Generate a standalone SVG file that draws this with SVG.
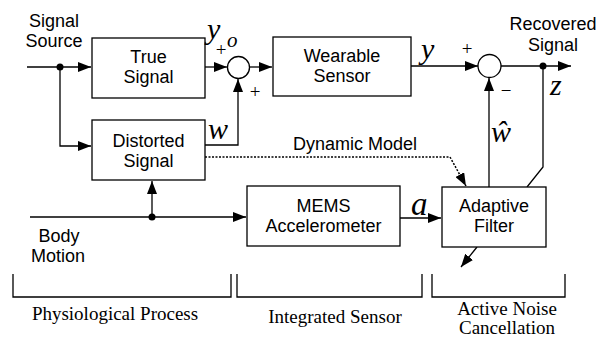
<svg xmlns="http://www.w3.org/2000/svg" width="603" height="337" viewBox="0 0 603 337">
<style>
.box{fill:#fff;stroke:#000;stroke-width:1.3}
.ln{fill:none;stroke:#000;stroke-width:1.3}
.dot{fill:none;stroke:#000;stroke-width:1.5;stroke-dasharray:2 1.5}
.s{font-family:"Liberation Sans",Arial,sans-serif;font-size:18px;text-anchor:middle;fill:#000}
.t{font-family:"Liberation Serif","Times New Roman",serif;font-size:19px;text-anchor:middle;fill:#000}
.m{font-family:"Liberation Serif","Times New Roman",serif;font-style:italic;font-size:30px;fill:#000}
.p{font-family:"Liberation Serif","Times New Roman",serif;font-size:19px;text-anchor:middle;fill:#000}
</style>
<defs>
<marker id="ar" markerUnits="userSpaceOnUse" markerWidth="14" markerHeight="10" refX="13" refY="5" orient="auto">
<path d="M0,0 L13,5 L0,10 Z" fill="#000"/>
</marker>
</defs>
<rect width="603" height="337" fill="#fff"/>
<g id="connectors">
<path class="ln" d="M27,67 H91" marker-end="url(#ar)"/>
<path class="ln" d="M60,67 V146 H91" marker-end="url(#ar)"/>
<path class="ln" d="M205,67 H227" marker-end="url(#ar)"/>
<path class="ln" d="M249,67 H272" marker-end="url(#ar)"/>
<path class="ln" d="M205,145 H238 V79" marker-end="url(#ar)"/>
<path class="ln" d="M411,66 H478" marker-end="url(#ar)"/>
<path class="ln" d="M501,66 H571" marker-end="url(#ar)"/>
<path class="ln" d="M543,66 V167 L527,187"/>
<path class="ln" d="M477,247 L461,267" marker-end="url(#ar)"/>
<path class="ln" d="M489,187 V78" marker-end="url(#ar)"/>
<path class="ln" d="M30,217 H246" marker-end="url(#ar)"/>
<path class="ln" d="M152,217 V181" marker-end="url(#ar)"/>
<path class="ln" d="M400,218 H441" marker-end="url(#ar)"/>
<path class="dot" d="M205,157 H450 L466,186" marker-end="url(#ar)"/>
<circle cx="60" cy="67" r="3.5" fill="#000"/>
<circle cx="152" cy="217" r="3.5" fill="#000"/>
<circle cx="543" cy="66" r="3.5" fill="#000"/>
</g>
<g id="source"><text class="s" x="54" y="27">Signal</text><text class="s" x="54" y="47">Source</text></g>
<g id="true-signal"><rect class="box" x="92" y="38" width="113" height="60"/><text class="s" x="148.5" y="63">True</text><text class="s" x="148.5" y="83">Signal</text></g>
<g id="distorted-signal"><rect class="box" x="92" y="120" width="113" height="60"/><text class="s" x="148.5" y="147">Distorted</text><text class="s" x="148.5" y="167">Signal</text></g>
<g id="sum1"><circle class="box" cx="238.5" cy="67.5" r="11"/></g>
<g id="wearable-sensor"><rect class="box" x="273" y="37" width="138" height="59"/><text class="s" x="342" y="62">Wearable</text><text class="s" x="342" y="82">Sensor</text></g>
<g id="sum2"><circle class="box" cx="489.5" cy="66" r="11.5"/></g>
<g id="mems"><rect class="box" x="247" y="186" width="153" height="60"/><text class="s" x="323.5" y="212">MEMS</text><text class="s" x="323.5" y="232">Accelerometer</text></g>
<g id="adaptive-filter"><rect class="box" x="442" y="187" width="104" height="60"/><text class="s" x="494" y="212">Adaptive</text><text class="s" x="494" y="232">Filter</text></g>
<g id="recovered"><text class="s" x="553" y="30">Recovered</text><text class="s" x="553" y="51">Signal</text></g>
<g id="labels">
<text class="s" x="355" y="150">Dynamic Model</text>
<text class="s" x="59" y="242">Body</text>
<text class="s" x="58" y="262">Motion</text>
<text class="m" x="207" y="39">y</text>
<text class="m" x="227" y="47" style="font-size:21px">o</text>
<text class="p" x="221" y="56">+</text>
<text class="p" x="255" y="98">+</text>
<text class="m" x="208" y="139">w</text>
<text class="m" x="421" y="59">y</text>
<text class="p" x="467" y="55">+</text>
<text class="p" x="506" y="97">−</text>
<text class="m" x="550" y="95">z</text>
<text class="m" x="491" y="142">ŵ</text>
<text class="m" x="411" y="215" style="font-size:33px">a</text>
</g>
<g id="brackets">
<path class="ln" d="M13,274 V297 H231 V274"/>
<path class="ln" d="M237,274 V297 H422 V274"/>
<path class="ln" d="M432,274 V297 H565 V274"/>
<text class="t" x="115" y="320">Physiological Process</text>
<text class="t" x="335" y="323">Integrated Sensor</text>
<text class="t" x="507" y="315">Active Noise</text>
<text class="t" x="507" y="334">Cancellation</text>
</g>
</svg>
